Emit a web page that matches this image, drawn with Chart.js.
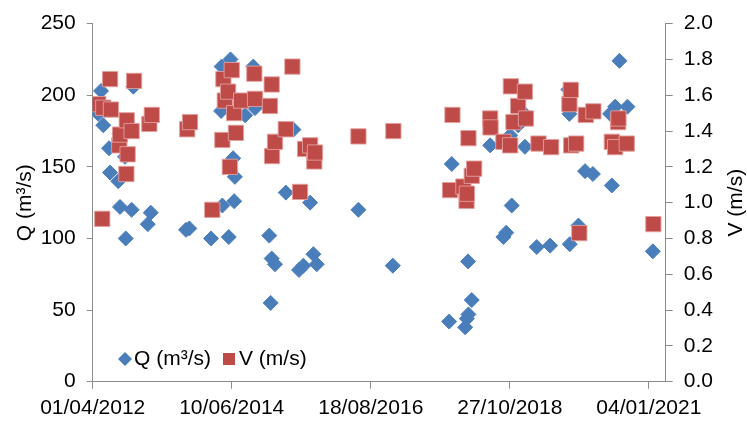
<!DOCTYPE html>
<html>
<head>
<meta charset="utf-8">
<script src="https://cdn.jsdelivr.net/npm/chart.js@4/dist/chart.umd.min.js"></script>
<style>
    html, body { margin: 0; padding: 0; background: #fff; }
    #wrap { width: 747px; height: 421px; }
</style>
</head>
<body>
<div id="wrap"><canvas id="chart" width="747" height="421"></canvas></div>
<script>
// ============================================
// DATA
// ============================================

const qLabel = 'Q (m³/s)';
const vLabel = 'V (m/s)';

const qDates = [
    '2012-05-03', '2012-05-19', '2012-06-01', '2012-07-04', '2012-07-10', '2012-08-26',
    '2012-09-05', '2012-10-04', '2012-10-08', '2012-11-11', '2012-11-21', '2013-02-12',
    '2013-03-01', '2013-09-20', '2013-10-09', '2014-02-11', '2014-04-10', '2014-04-13',
    '2014-04-17', '2014-05-24', '2014-06-03', '2014-06-18', '2014-06-24', '2014-06-28',
    '2014-08-26', '2014-10-12', '2014-10-22', '2015-01-12', '2015-01-20', '2015-01-26',
    '2015-02-14', '2015-04-17', '2015-05-31', '2015-07-02', '2015-07-27', '2015-09-04',
    '2015-09-23', '2015-10-12', '2016-06-08', '2016-12-23', '2017-11-12', '2017-11-27',
    '2018-02-12', '2018-02-22', '2018-03-01', '2018-03-03', '2018-03-22', '2018-07-06',
    '2018-09-20', '2018-10-06', '2018-10-29', '2018-11-07', '2018-12-14', '2019-01-20',
    '2019-01-22', '2019-03-31', '2019-06-16', '2019-09-29', '2019-10-05', '2019-10-07',
    '2019-11-26', '2020-01-03', '2020-02-17', '2020-05-26', '2020-06-05', '2020-06-24',
    '2020-07-19', '2020-09-03', '2021-01-27'
];
const qValues = [
    187, 203, 179, 163, 146, 140,
    122, 157, 100, 120, 206, 110,
    118, 106, 107, 100, 189, 220,
    123, 101, 225, 156, 126, 143,
    186, 220, 191, 102, 55, 86,
    82, 132, 176, 78, 81, 125,
    89, 82, 120, 81, 42, 152,
    38, 44, 84, 47, 57, 165,
    101, 104, 172, 123, 179, 187,
    164, 94, 95, 204, 187, 96,
    109, 147, 145, 187, 137, 192,
    224, 192, 91
];

const vDates = [
    '2012-05-03', '2012-05-26', '2012-06-01', '2012-07-10', '2012-07-15', '2012-09-01',
    '2012-09-05', '2012-10-12', '2012-10-14', '2012-10-19', '2012-11-11', '2012-11-25',
    '2013-02-21', '2013-03-07', '2013-09-27', '2013-10-13', '2014-02-18', '2014-04-17',
    '2014-04-23', '2014-05-01', '2014-05-20', '2014-05-30', '2014-06-10', '2014-06-24',
    '2014-07-04', '2014-08-03', '2014-10-18', '2014-10-22', '2015-01-16', '2015-01-26',
    '2015-01-28', '2015-02-14', '2015-04-17', '2015-05-25', '2015-07-08', '2015-08-06',
    '2015-09-04', '2015-09-28', '2015-10-02', '2016-06-08', '2016-12-26', '2017-11-17',
    '2017-12-01', '2018-02-02', '2018-02-20', '2018-02-22', '2018-03-03', '2018-03-22',
    '2018-04-05', '2018-07-06', '2018-07-08', '2018-09-20', '2018-10-29', '2018-11-02',
    '2018-11-17', '2018-12-14', '2019-01-22', '2019-01-28', '2019-04-10', '2019-06-22',
    '2019-10-05', '2019-10-13', '2019-10-15', '2019-11-13', '2019-12-01', '2020-01-07',
    '2020-02-20', '2020-06-05', '2020-06-24', '2020-07-11', '2020-07-13', '2020-08-30',
    '2021-01-30'
];
const vValues = [
    1.55, 0.91, 1.53, 1.69, 1.52, 1.32,
    1.38, 1.16, 1.46, 1.27, 1.40, 1.68,
    1.44, 1.49, 1.41, 1.45, 0.96, 1.35,
    1.69, 1.57, 1.62, 1.20, 1.74, 1.50,
    1.39, 1.57, 1.72, 1.58, 1.54, 1.66,
    1.26, 1.34, 1.41, 1.76, 1.06, 1.30,
    1.32, 1.23, 1.28, 1.37, 1.40, 1.07,
    1.49, 1.09, 1.01, 1.05, 1.36, 1.15,
    1.19, 1.47, 1.42, 1.34, 1.32, 1.65,
    1.45, 1.54, 1.62, 1.47, 1.33, 1.31,
    1.55, 1.63, 1.32, 1.33, 0.83, 1.49,
    1.51, 1.34, 1.31, 1.45, 1.47, 1.33,
    0.88
];

const xTickDates = ['2012-04-01', '2014-06-10', '2016-08-18', '2018-10-27', '2021-01-04'];
const xMinDate = '2012-04-01';
const xMaxDate = '2021-04-11';
const qTicks = [0, 50, 100, 150, 200, 250];
const vTicks = [0, 0.2, 0.4, 0.6, 0.8, 1.0, 1.2, 1.4, 1.6, 1.8, 2.0];

// ============================================
// HELPERS
// ============================================

const FONT = '"Liberation Sans", Arial, sans-serif';
const TEXT = '#000';
const AXIS = '#8c8c8c';
const BLUE = '#4A7EBB';
const RED = '#BE4B48';

function toDay(s) {
    return Date.UTC(+s.slice(0, 4), +s.slice(5, 7) - 1, +s.slice(8, 10)) / 86400000;
}

function fmtDay(v) {
    const d = new Date(Math.round(v) * 86400000);
    const dd = String(d.getUTCDate()).padStart(2, '0');
    const mm = String(d.getUTCMonth() + 1).padStart(2, '0');
    return dd + '/' + mm + '/' + d.getUTCFullYear();
}

function pairs(dates, values) {
    return dates.map((d, i) => ({ x: toDay(d), y: values[i] }));
}

// titles and in-plot legend drawn on the canvas
const overlay = {
    id: 'overlay',
    afterDraw(chart) {
        const ctx = chart.ctx;
        const area = chart.chartArea;
        const midY = (area.top + area.bottom) / 2;
        ctx.save();
        ctx.font = '21px ' + FONT;
        ctx.fillStyle = TEXT;
        ctx.textBaseline = 'middle';
        ctx.textAlign = 'center';
        // axis titles, both read bottom to top
        [[25, qLabel], [736, vLabel]].forEach(([x, t]) => {
            ctx.save();
            ctx.translate(x, midY);
            ctx.rotate(-Math.PI / 2);
            ctx.fillText(t, 0, 0);
            ctx.restore();
        });
        // legend
        const ly = 359;
        ctx.textAlign = 'left';
        ctx.fillStyle = BLUE;
        ctx.beginPath();
        ctx.moveTo(125, ly - 7);
        ctx.lineTo(132, ly);
        ctx.lineTo(125, ly + 7);
        ctx.lineTo(118, ly);
        ctx.closePath();
        ctx.fill();
        ctx.fillStyle = TEXT;
        ctx.fillText(qLabel, 134, ly);
        ctx.fillStyle = RED;
        ctx.fillRect(223, ly - 6, 12, 12);
        ctx.fillStyle = TEXT;
        ctx.fillText(vLabel, 239, ly);
        ctx.restore();
    }
};

// ============================================
// CHART
// ============================================

new Chart(document.getElementById('chart'), {
    type: 'scatter',
    data: {
        datasets: [
            {
                label: vLabel,
                data: pairs(vDates, vValues),
                yAxisID: 'y1',
                pointStyle: 'rect',
                pointRadius: 10.8,
                backgroundColor: RED,
                borderColor: 'rgba(226,160,158,0.9)',
                borderWidth: 1
            },
            {
                label: qLabel,
                data: pairs(qDates, qValues),
                yAxisID: 'y',
                pointStyle: 'rectRot',
                pointRadius: 7.5,
                backgroundColor: BLUE,
                borderColor: BLUE,
                borderWidth: 1
            }
        ]
    },
    options: {
        responsive: false,
        animation: false,
        layout: { padding: { top: 21.7, left: 0, right: 0, bottom: 0 } },
        plugins: { legend: { display: false }, tooltip: { enabled: false } },
        scales: {
            x: {
                type: 'linear',
                min: toDay(xMinDate),
                max: toDay(xMaxDate),
                afterBuildTicks: s => { s.ticks = xTickDates.map(d => ({ value: toDay(d) })); },
                afterFit: s => { s.height = 39.3; },
                grid: { drawOnChartArea: false, color: AXIS, tickLength: 7 },
                border: { color: AXIS },
                ticks: {
                    color: TEXT, font: { family: FONT, size: 21 }, padding: 7,
                    maxRotation: 0, autoSkip: false,
                    callback: v => fmtDay(v)
                }
            },
            y: {
                position: 'left',
                min: qTicks[0],
                max: qTicks[qTicks.length - 1],
                afterBuildTicks: s => { s.ticks = qTicks.map(v => ({ value: v })); },
                afterFit: s => { s.width = 92.7; },
                grid: { drawOnChartArea: false, color: AXIS, tickLength: 6 },
                border: { color: AXIS },
                ticks: { color: TEXT, font: { family: FONT, size: 21 }, padding: 11 }
            },
            y1: {
                position: 'right',
                min: vTicks[0],
                max: vTicks[vTicks.length - 1],
                afterBuildTicks: s => { s.ticks = vTicks.map(v => ({ value: v })); },
                afterFit: s => { s.width = 81.3; },
                grid: { drawOnChartArea: false, color: AXIS, tickLength: 7 },
                border: { color: AXIS },
                ticks: {
                    color: TEXT, font: { family: FONT, size: 21 }, padding: 11,
                    callback: v => v.toFixed(1)
                }
            }
        }
    },
    plugins: [overlay]
});
</script>
</body>
</html>
